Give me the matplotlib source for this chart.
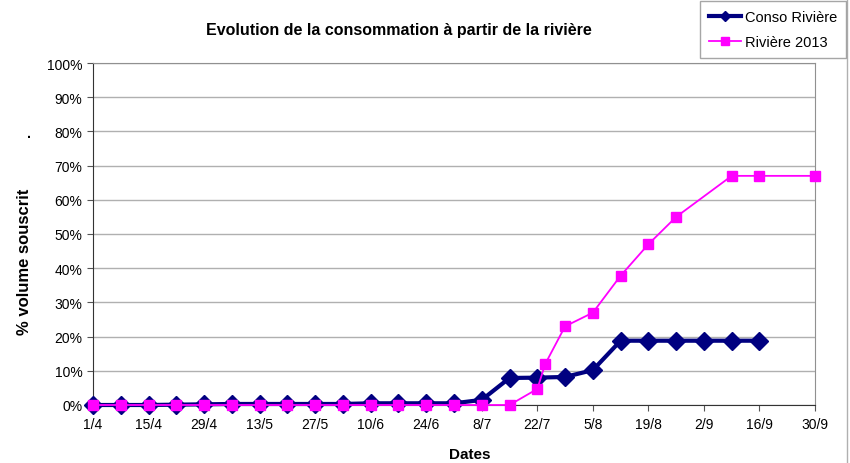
import matplotlib
matplotlib.use("Agg")
import matplotlib.pyplot as plt
from matplotlib.ticker import PercentFormatter
from matplotlib.lines import Line2D
import numpy as np
import datetime as dt

plt.rcParams['font.family'] = ['Liberation Sans Narrow', 'Liberation Sans', 'DejaVu Sans']

# Conso Rivière : relevés hebdomadaires du 1/4 au 16/9
conso_dates = ["01/04", "08/04", "15/04", "22/04", "29/04", "06/05", "13/05", "20/05",
               "27/05", "03/06", "10/06", "17/06", "24/06", "01/07", "08/07", "15/07",
               "22/07", "29/07", "05/08", "12/08", "19/08", "26/08", "02/09", "09/09",
               "16/09"]
conso_vals = [0.0, 0.0, 0.0, 0.1, 0.2, 0.3, 0.3, 0.3, 0.3, 0.3, 0.5, 0.5, 0.5, 0.5, 1.5,
              7.9, 8.0, 8.2, 10.2, 18.8, 18.8, 18.8, 18.8, 18.8, 18.8]

# Rivière 2013
riv_dates = ["01/04", "08/04", "15/04", "22/04", "29/04", "06/05", "13/05", "20/05",
             "27/05", "03/06", "10/06", "17/06", "24/06", "01/07", "08/07", "15/07",
             "22/07", "24/07", "29/07", "05/08", "12/08", "19/08", "26/08", "09/09",
             "16/09", "30/09"]
riv_vals = [0, 0, 0, 0, 0, 0, 0, 0, 0, 0, 0, 0, 0, 0, 0, 0,
            4.7, 12.0, 23.0, 27.0, 37.8, 47.0, 55.0, 67.0, 67.0, 67.0]

tick_dates = ["01/04", "15/04", "29/04", "13/05", "27/05", "10/06", "24/06", "08/07",
              "22/07", "05/08", "19/08", "02/09", "16/09", "30/09"]


def to_date(s):
    d, m = s.split("/")
    return dt.date(2013, int(m), int(d))


cx = [to_date(s) for s in conso_dates]
rx = [to_date(s) for s in riv_dates]
tx = [to_date(s) for s in tick_dates]

fig = plt.figure(figsize=(8.5, 4.64), dpi=100)
ax = fig.add_axes([93/850, 1-406/464, (815-93)/850, (406-64)/464])

ax.plot(cx, conso_vals, color='#000080', lw=3, marker='D', ms=9, zorder=3,
        label='Conso Rivière', clip_on=False)
ax.plot(rx, riv_vals, color='#ff00ff', lw=1.3, marker='s', ms=7, zorder=4,
        label='Rivière 2013', clip_on=False)

ax.set_xlim(tx[0], tx[-1])
ax.set_ylim(0, 100)
ax.set_yticks(np.arange(0, 101, 10))
ax.yaxis.set_major_formatter(PercentFormatter(decimals=0))
ax.set_xticks(tx)
ax.set_xticklabels([f"{d.day}/{d.month}" for d in tx])
ax.grid(axis='y', color='#b0b0b0', lw=1)
ax.set_axisbelow(True)
ax.tick_params(axis='both', labelsize=10, length=4, color='#555555')
ax.tick_params(axis='x', pad=5)

for side in ['top', 'right']:
    ax.spines[side].set_color('#909090')
ax.spines['left'].set_color('#333333')
ax.spines['bottom'].set_color('#333333')

fig.text(399/850, 1-30/464, "Evolution de la consommation à partir de la rivière",
         ha='center', va='center', fontsize=11.5, fontweight='bold')
fig.text(25/850, 1-262/464, "% volume souscrit", rotation=90, ha='center', va='center',
         fontsize=12, fontweight='bold')
fig.text(29/850, 1-134/464, ".", ha='center', va='center', fontsize=10, fontweight='bold')
fig.text(470/850, 1-455/464, "Dates", ha='center', va='center', fontsize=11,
         fontweight='bold')

handles = [Line2D([], [], color='#000080', lw=3, marker='D', ms=5),
           Line2D([], [], color='#ff00ff', lw=1.3, marker='s', ms=6)]
leg = fig.legend(handles, ['Conso Rivière', 'Rivière 2013'], loc='upper right',
                 bbox_to_anchor=(846/850, 1-2/464), fontsize=10.5, frameon=True,
                 fancybox=False, edgecolor='#909090', handlelength=2.2,
                 handletextpad=0.3, borderpad=0.6, labelspacing=0.8,
                 borderaxespad=0)
leg.get_frame().set_linewidth(1)

fig.add_artist(Line2D([847/850, 847/850], [0, 1], transform=fig.transFigure,
                      color='#b0b0b0', lw=1))

fig.savefig("out.png", dpi=100)
